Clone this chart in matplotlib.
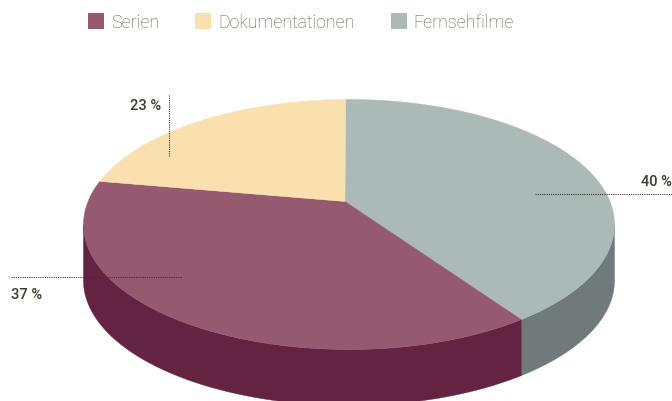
import numpy as np
import matplotlib
matplotlib.use("Agg")
import matplotlib.pyplot as plt
from matplotlib.patches import Polygon, Rectangle

names = ["Fernsehfilme", "Serien", "Dokumentationen"]
# wedge sizes as measured in the drawing, the printed labels are rounded a bit differently
shares = [40.8, 37.2, 22.0]
labels = ["40 %", "37 %", "23 %"]
top_colors = ["#abb9b7", "#955a70", "#f9e0ae"]
side_colors = ["#707a7a", "#642340", "#f9e0ae"]

legend_order = ["Serien", "Dokumentationen", "Fernsehfilme"]
legend_x = [88, 195, 391]
legend_text_x = [111, 218, 413]

# ellipse of the top face in pixels, apex is off centre because of the perspective
cx, cy, a, b = 349, 225.5, 265.5, 125
p = 0.184
start = -0.9
depth = 56


def project(t):
    # t in degrees, clockwise from 12 o'clock
    r = np.radians(t)
    u, v = np.sin(r), np.cos(r)
    d = 1 + p * v
    return cx + a * u * np.sqrt(1 - p**2) / d, cy - b * (v + p) / d


fig = plt.figure(figsize=(6.72, 4.02), dpi=100)
ax = fig.add_axes([0, 0, 1, 1])
ax.set_xlim(0, 672)
ax.set_ylim(402, 0)
ax.axis("off")

edges = start + np.concatenate([[0], np.cumsum(shares) / np.sum(shares) * 360])
apex = (345, cy - b * p)

# only the front of the rim shows, from the far right round to the far left
tt = np.linspace(0, 360, 3601)
xx, _ = project(tt)
t_right, t_left = tt[np.argmax(xx)], tt[np.argmin(xx)]

for i in range(len(shares)):
    t0, t1 = max(edges[i], t_right), min(edges[i + 1], t_left)
    if t0 >= t1:
        continue
    t = np.linspace(t0, t1, 300)
    x, y = project(t)
    rim = np.column_stack([np.r_[x, x[::-1]], np.r_[y, y[::-1] + depth]])
    ax.add_patch(Polygon(rim, fc=side_colors[i], ec=side_colors[i], lw=0.3, zorder=1))

for i in range(len(shares)):
    t = np.linspace(edges[i], edges[i + 1], 300)
    x, y = project(t)
    pts = np.column_stack([np.r_[apex[0], x], np.r_[apex[1], y]])
    ax.add_patch(Polygon(pts, fc=top_colors[i], ec=top_colors[i], lw=0.3, zorder=2))

# leader lines
line_color = "#3a3528"
ax.plot([535, 672], [194.5, 194.5], color=line_color, lw=0.8, ls=(0, (1, 1)), zorder=3)
ax.plot([11, 182], [277.5, 277.5], color=line_color, lw=0.8, ls=(0, (1, 1)), zorder=3)
ax.plot([168.5, 168.5], [96, 158], color=line_color, lw=0.8, ls=(0, (1, 1)), zorder=3)

label_font = dict(family="Roboto", fontsize=10.5, fontweight="medium", color="#3f3a2c", va="center")
ax.text(641, 182, labels[0], ha="left", **label_font)
ax.text(11, 295.5, labels[1], ha="left", **label_font)
ax.text(161, 105.5, labels[2], ha="right", **label_font)

# legend
for name, x0, xt in zip(legend_order, legend_x, legend_text_x):
    c = top_colors[names.index(name)]
    ax.add_patch(Rectangle((x0, 14), 16, 16, fc=c, ec="none"))
    ax.text(xt, 22.5, name, family="Roboto", fontweight="light", fontsize=12.8, color="#5f5d4b",
            va="center", ha="left")

fig.savefig("out.png", dpi=100)
